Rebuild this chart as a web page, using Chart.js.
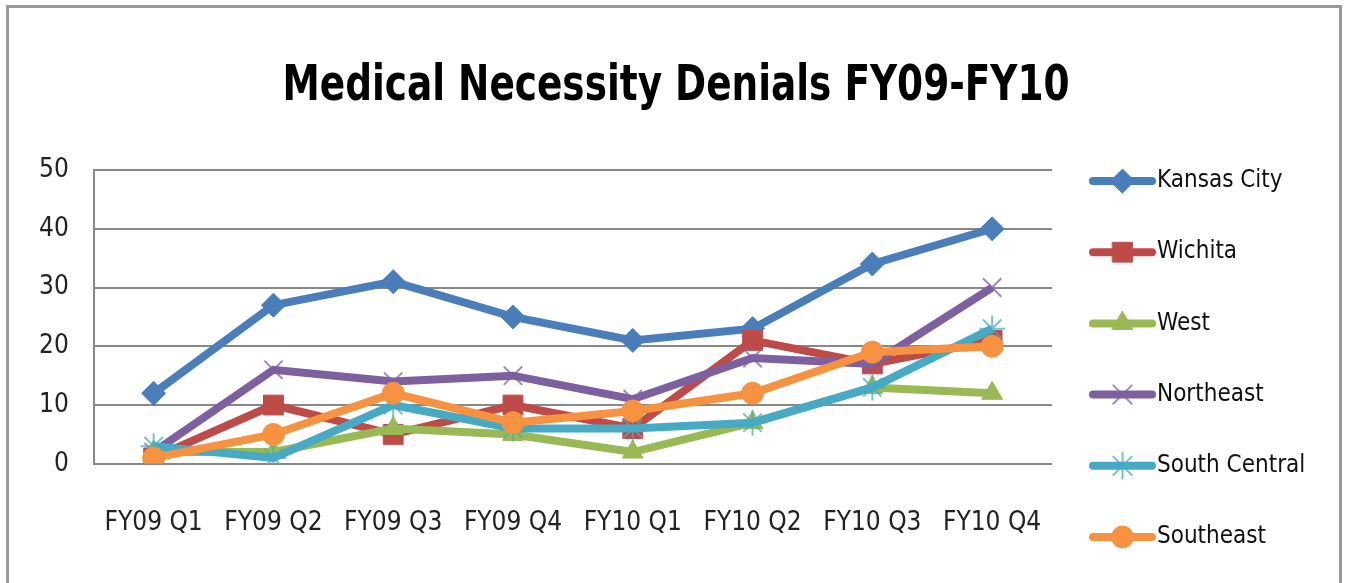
<!DOCTYPE html>
<html>
<head>
<meta charset="utf-8">
<script src="https://cdn.jsdelivr.net/npm/chart.js@4"></script>
<style>
    html, body { margin: 0; padding: 0; background: #fff; }
    #wrap { position: relative; width: 1346px; height: 583px; overflow: hidden; }
    #frame { position: absolute; left: 6px; top: 5px; width: 1336px; height: 600px;
             border: 3px solid #999; box-sizing: border-box; }
    #chart { position: absolute; left: 0; top: 0; }
</style>
</head>
<body>
<div id="wrap">
    <div id="frame"></div>
    <canvas id="chart" width="1346" height="583"></canvas>
</div>
<script>
"use strict";

// 四半期
const quarters = ["FY09 Q1", "FY09 Q2", "FY09 Q3", "FY09 Q4", "FY10 Q1", "FY10 Q2", "FY10 Q3", "FY10 Q4"];
// 地域ごとの件数
const kansasCity   = [12, 27, 31, 25, 21, 23, 34, 40];
const wichita      = [1, 10, 5, 10, 6, 21, 17, 21];
const west         = [2, 2, 6, 5, 2, 7, 13, 12];
const northeast    = [2, 16, 14, 15, 11, 18, 17, 30];
const southCentral = [3, 1, 10, 6, 6, 7, 13, 23];
const southeast    = [1, 5, 12, 7, 9, 12, 19, 20];
// y軸の目盛り
const yTicks = [0, 10, 20, 30, 40, 50];

const titleText = "Medical Necessity Denials FY09-FY10";
const fontFamily = '"Liberation Sans Narrow", "DejaVu Sans Condensed", "Open Sans", sans-serif';

const series = [
    { label: "Kansas City",   data: kansasCity,   color: "#4a7ebb", style: "rectRot",  radius: 12, fill: true },
    { label: "Wichita",       data: wichita,      color: "#be4b48", style: "rect",     radius: 14, fill: true },
    { label: "West",          data: west,         color: "#98b954", style: "triangle", radius: 12, fill: true },
    { label: "Northeast",     data: northeast,    color: "#7d60a0", style: "crossRot", radius: 13, fill: false },
    { label: "South Central", data: southCentral, color: "#46aac5", style: "star",     radius: 13, fill: false },
    { label: "Southeast",     data: southeast,    color: "#f69240", style: "circle",   radius: 11, fill: true },
];

// タイトル（縦長の字形に合わせて横方向を詰める）
const narrowTitle = {
    id: "narrowTitle",
    afterDraw(chart) {
        const ctx = chart.ctx;
        ctx.save();
        ctx.font = "bold 49px " + fontFamily;
        const w = ctx.measureText(titleText).width;
        const sx = Math.min(1, 787 / w);
        ctx.translate(676, 100);
        ctx.scale(sx, 1);
        ctx.fillStyle = "#000";
        ctx.textAlign = "center";
        ctx.textBaseline = "alphabetic";
        ctx.fillText(titleText, 0, 0);
        ctx.restore();
    }
};

// 凡例（線＋マーカー）
const lineLegend = {
    id: "lineLegend",
    afterDraw(chart) {
        const ctx = chart.ctx;
        const x0 = 1093, x1 = 1152, tx = 1157;
        const yStart = 181, yStep = 71.2;
        ctx.save();
        series.forEach((s, i) => {
            const y = yStart + i * yStep;
            ctx.strokeStyle = s.color;
            ctx.lineWidth = 8;
            ctx.lineCap = "round";
            ctx.beginPath();
            ctx.moveTo(x0, y);
            ctx.lineTo(x1, y);
            ctx.stroke();
            ctx.fillStyle = s.color;
            ctx.strokeStyle = s.fill ? s.color : s.color + "bb";
            ctx.lineWidth = s.fill ? 1 : 2;
            Chart.helpers.drawPoint(ctx, { pointStyle: s.style, radius: s.radius, rotation: 0, borderWidth: ctx.lineWidth }, (x0 + x1) / 2, y);
            ctx.fillStyle = "#111";
            ctx.font = "24px " + fontFamily;
            ctx.textAlign = "left";
            ctx.textBaseline = "middle";
            ctx.fillText(s.label, tx, y);
        });
        ctx.restore();
    }
};

const ctx = document.getElementById("chart");
new Chart(ctx, {
    type: "line",
    data: {
        labels: quarters,
        datasets: series.map((s, i) => ({
            label: s.label,
            data: s.data,
            order: series.length - i,
            borderColor: s.color,
            backgroundColor: s.color,
            borderWidth: 8,
            lineTension: 0,
            pointStyle: s.style,
            pointRadius: s.radius,
            pointBackgroundColor: s.color,
            pointBorderColor: s.fill ? s.color : s.color + "bb",
            pointBorderWidth: s.fill ? 1 : 2,
        })),
    },
    options: {
        responsive: false,
        animation: false,
        layout: {
            padding: { left: 14, right: 294, top: 170, bottom: 0 }
        },
        plugins: {
            legend: { display: false },
            tooltip: { enabled: false },
            title: { display: false }
        },
        scales: {
            y: {
                min: 0,
                max: 50,
                afterBuildTicks: axis => { axis.ticks = yTicks.map(v => ({ value: v })); },
                ticks: {
                    color: "#222",
                    font: { family: fontFamily, size: 26 },
                    padding: 25
                },
                grid: { color: "#888", lineWidth: 2, drawTicks: false },
                border: { color: "#888", width: 2 }
            },
            x: {
                offset: true,
                ticks: {
                    color: "#222",
                    font: { family: fontFamily, size: 26 },
                    padding: 44,
                    maxRotation: 0
                },
                grid: { display: false, drawTicks: false },
                border: { display: false }
            }
        }
    },
    plugins: [narrowTitle, lineLegend]
});
</script>
</body>
</html>
